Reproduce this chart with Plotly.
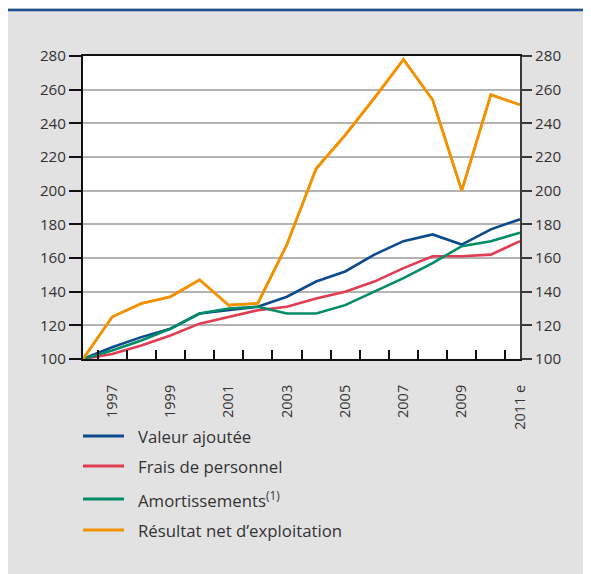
import plotly.graph_objects as go

# data (base 100 in 1996)
years = ["1996", "1997", "1998", "1999", "2000", "2001", "2002", "2003",
         "2004", "2005", "2006", "2007", "2008", "2009", "2010", "2011 e"]
year_labels = ["", "1997", "", "1999", "", "2001", "", "2003",
               "", "2005", "", "2007", "", "2009", "", "2011 e"]

valeur_ajoutee = [100, 107, 113, 118, 127, 129, 131, 137, 146, 152, 162, 170, 174, 168, 177, 183]
frais_personnel = [100, 103, 108, 114, 121, 125, 129, 131, 136, 140, 146, 154, 161, 161, 162, 170]
amortissements = [100, 105, 111, 118, 127, 130, 131, 127, 127, 132, 140, 148, 157, 167, 170, 175]
resultat_net = [100, 125, 133, 137, 147, 132, 133, 168, 213, 233, 255, 278, 254, 200, 257, 251]

names = ["Valeur ajoutée", "Frais de personnel", "Amortissements<sup>(1)</sup>",
         "Résultat net d\u2019exploitation"]
colors = ["#0b4a8d", "#e03c52", "#008c66", "#f39200"]
series = [valeur_ajoutee, frais_personnel, amortissements, resultat_net]

y_ticks = [100, 120, 140, 160, 180, 200, 220, 240, 260, 280]

# the page body keeps its 8px margin, which gives the white frame top/left
W, H = 583, 566
ml, mr, mt, mb = 75, 71, 48, 215
pw, ph = W - ml - mr, H - mt - mb

def px_x(x):
    return (x - ml) / pw

def px_y(y):
    return (H - mb - y) / ph

fig = go.Figure()

for name, col, vals in zip(names, colors, series):
    fig.add_trace(go.Scatter(x=years, y=vals, mode="lines", name=name,
                             line=dict(color=col, width=2.6), showlegend=False))

# copy on the right axis so that it gets drawn
fig.add_trace(go.Scatter(x=years, y=resultat_net, yaxis="y2", mode="lines",
                         line=dict(color=colors[3], width=2.6), showlegend=False,
                         hoverinfo="skip"))

tickfont = dict(family="Open Sans", size=15.2, color="#333333")

fig.update_layout(
    width=W, height=H,
    margin=dict(l=ml, r=mr, t=mt, b=mb),
    paper_bgcolor="#e2e2e2",
    plot_bgcolor="white",
    xaxis=dict(type="category", categoryorder="array", categoryarray=years,
               tickvals=years, ticktext=year_labels, tickson="boundaries",
               ticks="inside", ticklen=9, tickwidth=1.5, tickcolor="#111111",
               tickangle=-90, tickfont=dict(family="Open Sans", size=14.5, color="#333333"),
               ticklabelstandoff=18,
               showline=True, linecolor="#111111", linewidth=2, mirror=True,
               showgrid=False, zeroline=False),
    yaxis=dict(range=[100, 280], tickvals=y_ticks, ticks="outside", ticklen=12,
               tickwidth=1.5, tickcolor="#111111", tickfont=tickfont,
               showline=True, linecolor="#111111", linewidth=2,
               showgrid=True, gridcolor="#b4b4b4", gridwidth=1.5, zeroline=False),
    yaxis2=dict(range=[100, 280], tickvals=y_ticks, overlaying="y", side="right",
                ticks="outside", ticklen=10, tickwidth=1.5, tickcolor="#3a3a3a",
                tickfont=tickfont, showline=True, linecolor="#3a3a3a", linewidth=2,
                showgrid=False, zeroline=False),
    showlegend=False,
)

# blue rule at the top
fig.add_shape(type="line", xref="paper", yref="paper", x0=px_x(0), x1=px_x(W),
              y0=px_y(2), y1=px_y(2), line=dict(color="#1d5191", width=2.5))

# legend drawn by hand (longer line keys than plotly's own)
legend_rows = [428, 458, 491, 522]
for name, col, ry in zip(names, colors, legend_rows):
    fig.add_shape(type="line", xref="paper", yref="paper", x0=px_x(75), x1=px_x(116),
                  y0=px_y(ry), y1=px_y(ry), line=dict(color=col, width=3))
    fig.add_annotation(xref="paper", yref="paper", x=px_x(128), y=px_y(ry),
                       text=name, showarrow=False, xanchor="left", yanchor="middle",
                       font=dict(family="Open Sans", size=16.8, color="#333333"))

fig.write_html("out.html")
